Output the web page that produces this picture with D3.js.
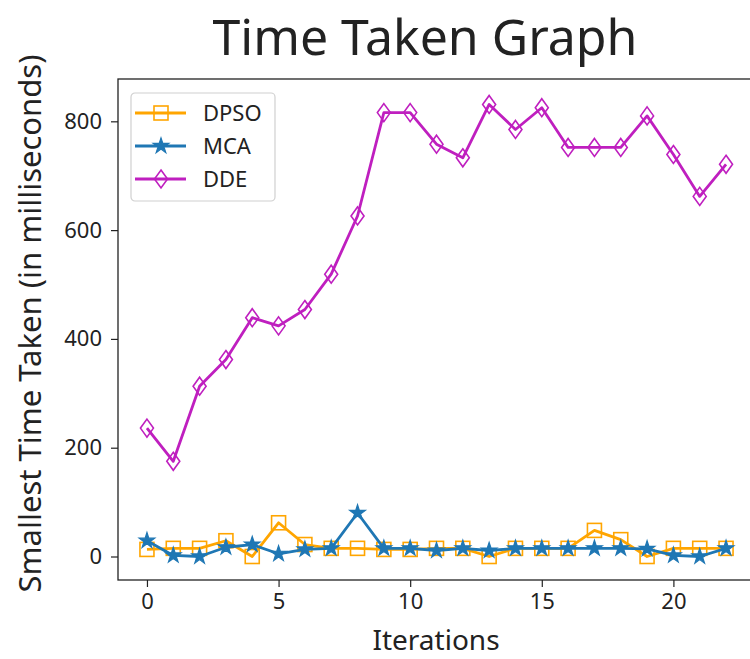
<!DOCTYPE html>
<html>
<head>
<meta charset="utf-8">
<script src="https://cdn.jsdelivr.net/npm/d3@7"></script>
<style>
  body { margin: 0; background: #fff; }
  text { font-family: "Noto Sans", "Open Sans", sans-serif; fill: #222; }
</style>
</head>
<body>
<div id="chart"></div>
<script>
// values
const iterations = [0, 1, 2, 3, 4, 5, 6, 7, 8, 9, 10, 11, 12, 13, 14, 15, 16, 17, 18, 19, 20, 21, 22]
const dpso = [13, 15, 15, 29, 0, 62, 22, 15, 15, 13, 13, 15, 15, 0, 15, 15, 15, 48, 31, 0, 15, 15, 15]
const mca = [29, 2, 0, 17, 22, 5, 13, 15, 80, 15, 15, 11, 15, 11, 15, 15, 15, 15, 15, 14, 2, 0, 15]
const dde = [236, 175, 313, 362, 439, 424, 454, 519, 626, 816, 816, 758, 733, 831, 785, 825, 752, 752, 752, 810, 739, 662, 721]
const seriesNames = ['DPSO', 'MCA', 'DDE']
const xTicks = [0, 5, 10, 15, 20]
const yTicks = [0, 200, 400, 600, 800]

const W = 750, H = 659
const margin = { top: 79, right: -5, bottom: 79, left: 118 }

const svg = d3.select('#chart').append('svg')
  .attr('width', W).attr('height', H)

// matplotlib-like 5% padding around the data
const x = d3.scaleLinear().domain([-1.1, 23.1]).range([margin.left, W - margin.right])
const y = d3.scaleLinear().domain([-43.2, 877.8]).range([H - margin.bottom, margin.top])

const series = [
  { name: 'DPSO', values: dpso, color: '#ffa500', marker: 'square' },
  { name: 'MCA', values: mca, color: '#1f77b4', marker: 'star' },
  { name: 'DDE', values: dde, color: '#bf1fbf', marker: 'diamond' },
]

function drawMarker(g, type, color) {
  if (type === 'square') {
    g.append('rect').attr('x', -7).attr('y', -7).attr('width', 14).attr('height', 14)
      .attr('fill', 'none').attr('stroke', color).attr('stroke-width', 1.6)
  } else if (type === 'star') {
    g.append('path').attr('d', d3.symbol(d3.symbolStar, 75)())
      .attr('fill', color).attr('stroke', color).attr('stroke-width', 1.2)
  } else {
    g.append('path').attr('d', 'M0,-9L6.5,0L0,9L-6.5,0Z')
      .attr('fill', 'none').attr('stroke', color).attr('stroke-width', 1.6)
  }
}

const plot = svg.append('g')
const line = d3.line().x((d, i) => x(iterations[i])).y(d => y(d))

series.forEach(s => {
  plot.append('path').datum(s.values)
    .attr('d', line)
    .attr('fill', 'none')
    .attr('stroke', s.color)
    .attr('stroke-width', 2.8)
    .attr('stroke-linejoin', 'round')
  s.values.forEach((v, i) => {
    const g = plot.append('g').attr('transform', `translate(${x(iterations[i])},${y(v)})`)
    drawMarker(g, s.marker, s.color)
  })
})

// axes
const xAxis = svg.append('g')
  .attr('transform', `translate(0,${H - margin.bottom})`)
  .call(d3.axisBottom(x).tickValues(xTicks).tickSize(7).tickPadding(6).tickFormat(d3.format('d')))
const yAxis = svg.append('g')
  .attr('transform', `translate(${margin.left},0)`)
  .call(d3.axisLeft(y).tickValues(yTicks).tickSize(7).tickPadding(9).tickFormat(d3.format('d')))

;[xAxis, yAxis].forEach(a => {
  a.select('.domain').remove()
  a.selectAll('.tick line').attr('stroke', '#222').attr('stroke-width', 1.2)
  a.selectAll('.tick text').attr('font-size', 22).attr('fill', '#222')
    .style('font-family', '"Noto Sans", sans-serif')
})

// frame (right spine falls outside the picture)
svg.append('rect')
  .attr('x', margin.left).attr('y', margin.top)
  .attr('width', x.range()[1] - margin.left)
  .attr('height', H - margin.bottom - margin.top)
  .attr('fill', 'none').attr('stroke', '#222').attr('stroke-width', 1.3)

// labels
svg.append('text')
  .attr('x', 425).attr('y', 55)
  .attr('text-anchor', 'middle')
  .attr('font-size', 50)
  .text('Time Taken Graph')

svg.append('text')
  .attr('x', 436).attr('y', 650)
  .attr('text-anchor', 'middle')
  .attr('font-size', 28)
  .text('Iterations')

svg.append('text')
  .attr('transform', `translate(41,${(margin.top + H - margin.bottom) / 2 - 6}) rotate(-90)`)
  .attr('text-anchor', 'middle')
  .attr('font-size', 31)
  .text('Smallest Time Taken (in milliseconds)')

// legend
const legend = svg.append('g').attr('transform', 'translate(131,93)')
legend.append('rect')
  .attr('width', 144).attr('height', 108).attr('rx', 4)
  .attr('fill', 'rgba(255,255,255,0.85)').attr('stroke', '#d0d0d0').attr('stroke-width', 1.2)

series.forEach((s, i) => {
  const row = legend.append('g').attr('transform', `translate(0,${20 + i * 33})`)
  row.append('line').attr('x1', 4).attr('x2', 55).attr('y1', 0).attr('y2', 0)
    .attr('stroke', s.color).attr('stroke-width', 2.8)
  const m = row.append('g').attr('transform', 'translate(30,0)')
  drawMarker(m, s.marker, s.color)
  row.append('text').attr('x', 72).attr('y', 8)
    .attr('font-size', 22)
    .text(seriesNames[i])
})
</script>
</body>
</html>
